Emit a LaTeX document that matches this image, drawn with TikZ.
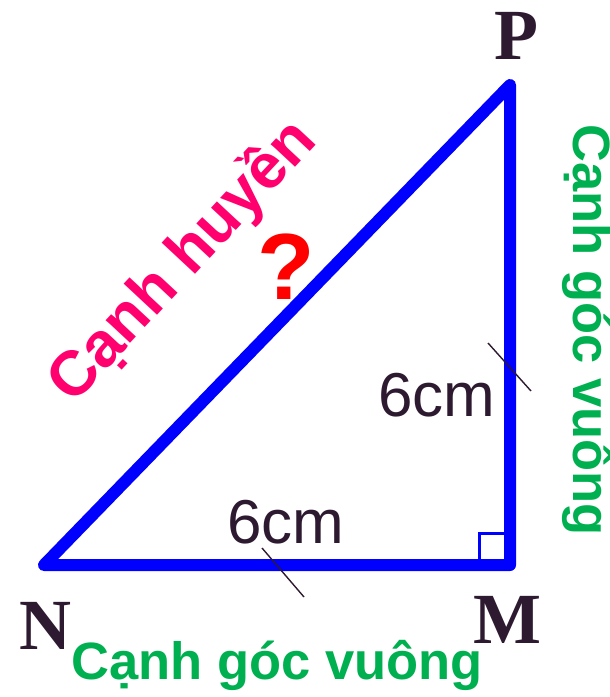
\documentclass[tikz,border=0pt]{standalone}
\usepackage{fontspec}
\setmainfont{Liberation Serif}
\setsansfont{Liberation Sans}
\usetikzlibrary{calc}
\definecolor{tblue}{RGB}{0,0,255}
\definecolor{tdark}{RGB}{46,26,48}
\definecolor{tgreen}{RGB}{0,176,80}
\definecolor{tpink}{RGB}{255,0,110}
\definecolor{tred}{RGB}{255,0,0}
\tikzset{
  side/.style={draw=tblue,line width=12pt,line join=round,line cap=round},
  tick/.style={draw=tdark,line width=1.4pt},
  vlabel/.style={text=tdark,font=\fontsize{72}{72}\selectfont\bfseries,inner sep=0pt},
  len/.style={text=tdark,font=\sffamily\fontsize{62}{62}\selectfont,inner sep=0pt},
  greenlab/.style={text=tgreen,font=\sffamily\bfseries\fontsize{52.5}{53}\selectfont,inner sep=0pt},
}
\begin{document}
\begin{tikzpicture}[x=1pt,y=-1pt]
\useasboundingbox (0,0) rectangle (610,697);
\coordinate (N) at (44,565);
\coordinate (M) at (510,565);
\coordinate (P) at (510,85);
\draw[side] (N) -- (M) -- (P) -- cycle;
\draw[draw=tblue,line width=3pt] ($(M)+(-31,0)$) -- ($(M)+(-31,-32)$) -- ($(M)+(0,-32)$);
\draw[tick] (262,548) -- (304,597);
\draw[tick] (488,343) -- (531,391);
\node[vlabel] (lP) at (516,36) {P};
\node[vlabel] (lN) at (45,626) {N};
\node[vlabel] (lM) at (507,620) {M};
\node[len] (l1) at (286,522) {6cm};
\node[len] (l2) at (437,395) {6cm};
\node[greenlab,anchor=base] (g1) at (277,679) {Cạnh góc vuông};
\node[greenlab,anchor=base,rotate=-90] (g2) at (573,330) {Cạnh góc vuông};
\node[text=tpink,font=\sffamily\bfseries\fontsize{63}{63}\selectfont,inner sep=0pt,anchor=base,rotate=47] (hyp) at (196,274) {Cạnh huyền};
\node[text=tred,font=\sffamily\bfseries\fontsize{94}{94}\selectfont,inner sep=0pt] (q) at (286,267) {?};
\end{tikzpicture}
\end{document}
